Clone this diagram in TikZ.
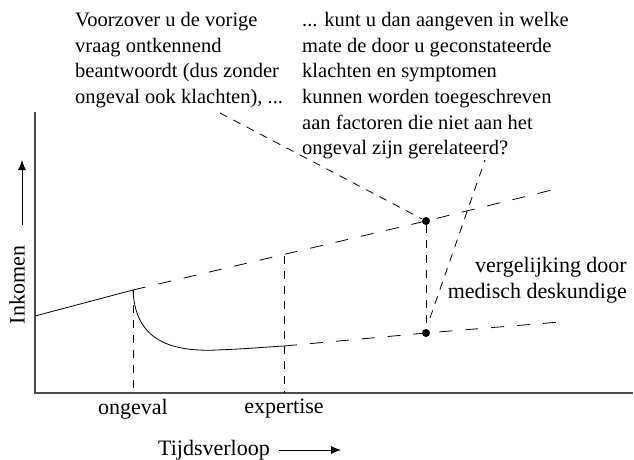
\documentclass[tikz,border=0pt]{standalone}
\usepackage{fontspec}
\setmainfont{Liberation Serif}
\usetikzlibrary{arrows.meta}
\begin{document}
\begin{tikzpicture}[x=1pt,y=-1pt,
  lbl/.style={font=\fontsize{22}{25.7}\selectfont, inner sep=0pt},
  toplbl/.style={font=\fontsize{20.5}{25.7}\selectfont, inner sep=0pt, align=left, anchor=north west},
  longdash/.style={dash pattern=on 13pt off 13pt, line width=0.8pt},
  shortdash/.style={dash pattern=on 8pt off 7pt, line width=0.8pt},
  curveline/.style={line width=0.8pt},
  axisline/.style={line width=1.3pt, draw=black!70},
  dot/.style={circle, fill=black, inner sep=0pt, minimum size=8pt},
  arr/.style={line width=0.8pt, -{Latex[length=10pt,width=8pt]}}]
\useasboundingbox (0,0) rectangle (634,460);
% axes
\coordinate (O) at (35,393);
\coordinate (ytop) at (35,112);
\coordinate (xend) at (633,393);
\draw[axisline] (ytop) -- (O) -- (xend);
% key points
\coordinate (start) at (35,316);
\coordinate (acc) at (133,290);
\coordinate (accb) at (133,393);
\coordinate (expU) at (284,256);
\coordinate (expL) at (284,346);
\coordinate (expB) at (284,393);
\coordinate (low) at (217,350);
\coordinate (uEnd) at (560,188);
\coordinate (lEnd) at (560,322);
\coordinate (t1) at (220,113);
\coordinate (t2) at (485,160);
\coordinate (d2n) at (430,318);
\node[dot] (d1) at (426,221) {};
\node[dot] (d2) at (426,333) {};
% income lines
\draw[curveline] (start) -- (acc);
\draw[curveline] (acc) .. controls (135,340) and (170,352) .. (low) .. controls (245,349) and (265,347) .. (expL);
\draw[longdash] (acc) -- (d1.center) -- (uEnd);
\draw[longdash] (expL) -- (d2.center) -- (lEnd);
% verticals
\draw[shortdash] (acc) -- (accb);
\draw[shortdash] (expU) -- (expB);
\draw[shortdash] (d1) -- (d2);
\draw[shortdash] (t1) -- (d1);
\draw[shortdash] (d2n) -- (t2);
% texts
\node[toplbl] (q1) at (75,12) {Voorzover u de vorige\\vraag ontkennend\\beantwoordt (dus zonder\\ongeval ook klachten), ...};
\node[toplbl] (q2) at (302,12) {... kunt u dan aangeven in welke\\mate de door u geconstateerde\\klachten en symptomen\\kunnen worden toegeschreven\\aan factoren die niet aan het\\ongeval zijn gerelateerd?};
\node[lbl, align=right, anchor=north east] (vg) at (627,257) {vergelijking door\\medisch deskundige};
\node[lbl, rotate=90] (ink) at (17,285) {Inkomen};
\coordinate (ya) at (22,225);
\coordinate (yb) at (22,160);
\draw[arr] (ya) -- (yb);
\node[lbl] (ong) at (133,409) {ongeval};
\node[lbl] (exp) at (284,409) {expertise};
\node[lbl] (tijd) at (214,450) {Tijdsverloop};
\coordinate (xa) at (279,450);
\coordinate (xb) at (341,450);
\draw[arr] (xa) -- (xb);
\end{tikzpicture}
\end{document}
